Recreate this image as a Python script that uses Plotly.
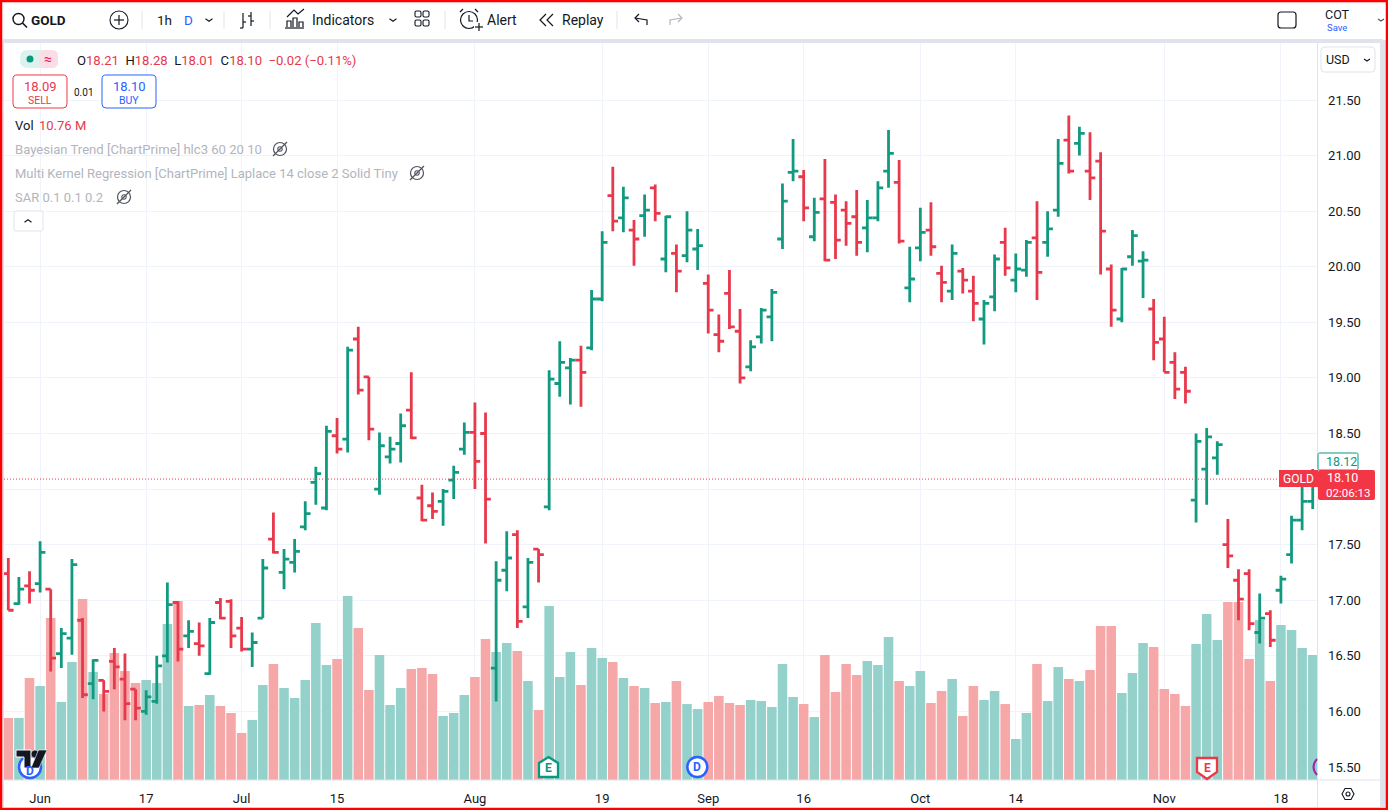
import pandas as pd
import plotly.graph_objects as go

W, H = 1388, 810

holidays = ["2024-06-19", "2024-07-04", "2024-09-02"]
dates = [d.strftime("%Y-%m-%d") for d in pd.bdate_range("2024-05-29", "2024-11-21")
         if d.strftime("%Y-%m-%d") not in holidays]

opens = [17.24,16.97,17.13,17.15,17.10,16.52,16.66,16.82,16.25,16.28,16.45,16.29,16.20,16.00,16.09,16.50,
         16.98,16.68,16.61,16.34,16.98,16.99,16.75,16.56,16.84,17.55,17.25,17.34,17.66,18.06,17.83,18.48,
         18.45,19.35,19.01,18.00,18.29,18.41,18.71,17.92,17.85,17.89,18.08,18.36,18.51,18.50,16.39,17.27,
         17.59,16.94,17.46,17.84,18.95,19.09,19.16,19.27,19.71,20.64,20.44,20.33,20.46,20.71,20.07,20.12,
         20.10,20.16,19.85,19.39,19.76,19.42,19.10,19.37,19.55,20.25,20.85,20.81,20.27,20.61,20.58,20.51,
         20.45,20.35,20.44,20.86,20.76,19.81,20.17,20.33,19.94,19.78,19.96,19.78,19.53,19.73,20.22,19.88,
         19.97,20.26,20.22,20.51,21.14,21.11,20.86,20.95,19.98,19.53,20.09,20.05,19.62,19.35,19.14,19.05,
         17.90,18.18,18.28,17.50,17.18,17.24,16.71,16.88,17.09,17.41,17.72,17.89]
highs = [17.38,17.21,17.26,17.53,17.10,16.75,17.37,16.84,16.47,16.28,16.57,16.52,16.20,16.19,16.50,17.16,
         16.99,16.82,16.80,16.84,17.02,17.01,16.85,16.71,17.37,17.79,17.46,17.55,17.89,18.20,18.57,18.64,
         19.28,19.46,19.01,18.51,18.47,18.68,19.05,18.04,17.97,18.00,18.21,18.60,18.78,18.69,17.35,17.62,
         17.63,17.38,17.46,19.07,19.33,19.18,19.29,19.79,20.32,20.90,20.72,20.42,20.65,20.74,20.46,20.20,
         20.50,20.34,19.93,19.57,19.97,19.62,19.34,19.63,19.80,20.75,21.15,20.87,20.62,20.97,20.65,20.59,
         20.69,20.60,20.77,21.23,20.96,20.18,20.53,20.58,20.01,20.20,19.99,19.92,19.70,20.11,20.35,20.12,
         20.24,20.59,20.50,21.15,21.36,21.26,21.21,21.03,20.02,19.99,20.33,20.14,19.71,19.55,19.23,19.10,
         18.50,18.55,18.43,17.73,17.28,17.28,17.06,16.91,17.22,17.76,18.10,18.18]
lows = [16.91,16.96,16.97,17.07,16.36,16.39,16.51,16.12,16.11,16.00,16.20,15.92,15.92,15.97,16.07,16.44,
        16.45,16.57,16.50,16.33,16.83,16.57,16.54,16.40,16.84,17.42,17.10,17.25,17.63,17.86,17.81,18.32,
        18.33,18.85,18.44,17.95,18.23,18.24,18.45,17.71,17.73,17.67,17.91,18.31,18.00,17.51,16.09,17.08,
        16.75,16.84,17.16,17.81,18.83,18.76,18.74,19.25,19.69,20.32,20.31,20.01,20.27,20.41,19.95,19.77,
        20.04,19.97,19.40,19.23,19.44,18.95,19.06,19.31,19.33,20.16,20.77,20.41,20.23,20.05,20.07,20.19,
        20.10,20.13,20.41,20.71,20.21,19.68,20.05,20.10,19.68,19.70,19.76,19.51,19.30,19.60,19.92,19.77,
        19.91,19.70,20.09,20.45,20.84,21.00,20.60,19.93,19.46,19.50,20.01,19.72,19.16,19.05,18.81,18.77,
        17.70,17.86,18.13,17.29,16.82,16.73,16.61,16.58,16.97,17.33,17.63,17.82]
closes = [16.91,17.10,17.09,17.43,16.48,16.70,17.32,16.15,16.46,16.18,16.40,16.07,16.03,16.13,16.41,16.96,
          16.56,16.72,16.59,16.80,16.84,16.68,16.56,16.62,17.29,17.43,17.37,17.44,17.78,18.14,18.52,18.36,
          19.25,18.89,18.54,18.39,18.36,18.57,18.46,17.72,17.80,17.98,18.15,18.51,18.25,17.91,17.18,17.38,
          16.81,17.34,17.41,18.99,19.14,19.16,19.05,19.71,20.22,20.41,20.62,20.25,20.51,20.48,20.45,19.96,
          20.33,20.19,19.61,19.33,19.46,19.00,19.28,19.61,19.77,20.59,20.86,20.53,20.49,20.06,20.24,20.39,
          20.22,20.44,20.71,21.02,20.23,19.89,20.31,20.18,19.86,20.12,19.88,19.67,19.67,20.07,19.99,19.98,
          20.22,19.95,20.34,20.93,20.86,21.20,20.80,20.32,19.61,19.98,20.28,20.06,19.32,19.05,18.90,18.88,
          18.43,18.47,18.40,17.40,17.01,16.79,16.84,16.64,17.19,17.72,17.89,18.12]
volumes = [5.34,5.34,8.78,8.09,13.95,6.72,10.16,15.58,9.30,7.40,10.93,9.38,8.35,8.61,8.35,13.43,
           15.41,6.37,6.46,7.32,6.37,5.77,4.05,5.17,8.18,9.99,7.92,7.06,8.61,13.52,9.90,10.42,
           15.84,13.09,7.75,10.76,6.46,7.92,9.56,9.64,9.13,5.51,5.77,7.32,8.87,12.14,11.02,11.80,
           11.11,8.52,6.03,14.98,8.87,11.02,8.18,11.37,10.50,10.16,8.78,8.09,7.92,6.63,6.72,8.52,
           6.54,6.11,6.72,7.23,6.63,6.46,6.89,6.80,6.29,9.99,7.15,6.54,5.42,10.76,7.58,9.99,
           9.04,10.25,9.90,12.31,8.52,8.09,9.38,6.63,7.66,8.70,5.51,8.09,6.89,7.66,6.54,3.53,
           5.77,9.99,6.80,9.73,8.70,8.52,9.47,13.26,13.26,7.49,9.21,11.80,11.45,7.84,7.40,6.37,
           11.71,14.29,12.05,15.33,15.33,10.42,13.78,8.52,13.35,12.92,11.37,10.76]

x_tick_dates = ["2024-06-03","2024-06-17","2024-07-01","2024-07-15","2024-08-01","2024-08-19",
                "2024-09-03","2024-09-16","2024-10-01","2024-10-14","2024-11-01","2024-11-18"]
x_tick_text = ["Jun","17","Jul","15","Aug","19","Sep","16","Oct","14","Nov","18"]
price_ticks = [15.5,16.0,16.5,17.0,17.5,18.0,18.5,19.0,19.5,20.0,20.5,21.0,21.5]
# the 18.00 label is hidden behind the countdown label in the reference
price_tick_text = ["15.50","16.00","16.50","17.00","17.50","","18.50","19.00","19.50","20.00","20.50","21.00","21.50"]
last_price = 18.09

GREEN, RED = "#129A80", "#E8384C"
VOL_G, VOL_R = "#94D1CB", "#F6A7A7"
GRID, BORDER, BAND = "#F0F3FA", "#E0E3EB", "#E0E3EB"
TXT, GRAY, BLUE, TV_RED = "#131722", "#B2B5BE", "#2962FF", "#F23645"
FONT = "Roboto"

def X(v): return v / W
def Y(v): return 1 - v / H

shapes, notes = [], []

def text(x, y, s, size=13, color=TXT, anchor="left", bold=False):
    notes.append(dict(xref="paper", yref="paper", x=X(x), y=Y(y), text=f"<b>{s}</b>" if bold else s,
                      showarrow=False, xanchor=anchor, yanchor="middle", borderpad=0,
                      font=dict(family=FONT, size=size, color=color)))

def rect(x0, y0, x1, y1, fill="rgba(0,0,0,0)", line=None, lw=1):
    shapes.append(dict(type="rect", xref="paper", yref="paper", layer="above",
                       x0=X(x0), x1=X(x1), y0=Y(y0), y1=Y(y1), fillcolor=fill,
                       line=dict(color=line or "rgba(0,0,0,0)", width=lw if line else 0)))

def path(pts, close=False, fill="rgba(0,0,0,0)", line=TXT, lw=1.2):
    d = "M " + " L ".join(f"{X(a):.5f},{Y(b):.5f}" for a, b in pts) + (" Z" if close else "")
    shapes.append(dict(type="path", xref="paper", yref="paper", layer="above", path=d, fillcolor=fill,
                       line=dict(color=line or "rgba(0,0,0,0)", width=lw if line else 0)))

def rrect(x0, y0, x1, y1, r=3, fill="#FFFFFF", line=BORDER, lw=1):
    def p(a, b): return f"{X(a):.5f},{Y(b):.5f}"
    d = (f"M {p(x0+r,y0)} L {p(x1-r,y0)} Q {p(x1,y0)} {p(x1,y0+r)} L {p(x1,y1-r)} Q {p(x1,y1)} {p(x1-r,y1)} "
         f"L {p(x0+r,y1)} Q {p(x0,y1)} {p(x0,y1-r)} L {p(x0,y0+r)} Q {p(x0,y0)} {p(x0+r,y0)} Z")
    shapes.append(dict(type="path", xref="paper", yref="paper", layer="above", path=d, fillcolor=fill,
                       line=dict(color=line or "rgba(0,0,0,0)", width=lw if line else 0)))

def circle(cx, cy, r, fill="rgba(0,0,0,0)", line=TXT, lw=1.2):
    shapes.append(dict(type="circle", xref="paper", yref="paper", layer="above",
                       x0=X(cx-r), x1=X(cx+r), y0=Y(cy-r), y1=Y(cy+r), fillcolor=fill,
                       line=dict(color=line or "rgba(0,0,0,0)", width=lw if line else 0)))

def chevron(cx, cy, up=False, w=3.5, h=2.5, color=TXT):
    s = -1 if up else 1
    path([(cx-w, cy-s*h/2), (cx, cy+s*h/2), (cx+w, cy-s*h/2)], line=color, lw=1.1)

def eye(cx, cy):
    circle(cx, cy, 6.5, line="#50535E", lw=1.2)
    circle(cx, cy, 2.2, line="#50535E", lw=1.1)
    path([(cx-7, cy+7), (cx+7, cy-7)], line="#50535E", lw=1.3)

# frame / toolbar
rect(3, 39, 1383, 43, fill=BAND)
rect(1380, 40, 1386, 807, fill=BAND)
rect(2, 40, 4, 807, fill=BAND)
path([(1317.5, 43), (1317.5, 807)], line=BORDER, lw=1)
path([(4, 780), (1380, 780)], line=BORDER, lw=1)

# toolbar icons
circle(18.5, 19, 5.5, lw=1.4); path([(22.5, 23), (27, 27.5)], lw=1.6)
circle(119, 20, 9, lw=1.1); path([(114, 20), (124, 20)]); path([(119, 15), (119, 25)])
for sx in (142, 224, 270, 445, 617):
    path([(sx, 11), (sx, 29)], line=BORDER, lw=1)
chevron(209, 20)
path([(243, 13), (243, 28)]); path([(240, 28), (243, 28)]); path([(243, 22), (246, 22)])
path([(251, 12), (251, 26)]); path([(248, 16), (251, 16)]); path([(251, 21), (254, 21)])
path([(287, 27), (287, 21), (291, 21), (291, 27)]); path([(293, 27), (293, 18), (297, 18), (297, 27)])
path([(299, 27), (299, 22), (303, 22), (303, 27)]); path([(285, 28), (304, 28)])
path([(287, 17), (294, 10), (298, 14), (304, 9)])
chevron(393, 20)
for gx, gy in ((418, 14), (426, 14), (418, 23), (426, 23)):
    rrect(gx-3, gy-3, gx+3, gy+3, r=1.5, fill="#FFFFFF", line=TXT, lw=1.1)
circle(469, 20, 8.5, lw=1.2); path([(469, 15), (469, 21), (473, 21)])
path([(460, 12), (463, 9)]); path([(478, 12), (475, 9)]); rect(474, 22, 483, 31, fill="#FFFFFF")
path([(475, 27), (483, 27)]); path([(479, 23), (479, 31)])
path([(546, 14), (540, 20), (546, 26)]); path([(553, 14), (547, 20), (553, 26)])
path([(647, 25), (647, 20), (635, 18)]); path([(639, 14), (635, 18), (639, 22)])
path([(670, 25), (670, 20), (682, 18)], line=GRAY); path([(678, 14), (682, 18), (678, 22)], line=GRAY)
rrect(1278, 12, 1296, 28, r=3, fill="#FFFFFF", line=TXT, lw=1.2)
chevron(1381, 20, w=3, h=2, color="#50535E")

text(30, 20, "GOLD", 13.5, bold=True)
text(156, 20, "1h", 13.5)
text(183, 20, "D", 13.5, BLUE)
text(311, 20, "Indicators", 14)
text(486, 20, "Alert", 14)
text(561, 20, "Replay", 14)
text(1337, 15, "COT", 12.5, anchor="center")
text(1337, 28, "Save", 9.5, BLUE, anchor="center")

# legend
rrect(20, 50, 58, 68, r=8, fill="#DDF2EE", line=None)
rrect(39, 50, 58, 68, r=6, fill="#FBDDE5", line=None)
circle(30, 59, 3.5, fill="#089981", line=None)
text(48, 59, "≈", 14, "#E91E63", anchor="center")
R = "#E8384C"
ohlc = (f'O<span style="color:{R}">18.21</span>  H<span style="color:{R}">18.28</span>  '
        f'L<span style="color:{R}">18.01</span>  C<span style="color:{R}">18.10</span>  '
        f'<span style="color:{R}">−0.02 (−0.11%)</span>')
text(76, 60, ohlc, 13.1)
rrect(13, 75, 67, 108, r=4, fill="#FFFFFF", line=TV_RED)
rrect(102, 75, 156, 108, r=4, fill="#FFFFFF", line=BLUE)
text(40, 86, "18.09", 13, R, anchor="center")
text(40, 100, "SELL", 10.5, R, anchor="center")
text(84, 92, "0.01", 10, TXT, anchor="center")
text(129, 86, "18.10", 13, BLUE, anchor="center")
text(129, 100, "BUY", 10.5, BLUE, anchor="center")
text(14, 125, "Vol", 13)
text(38, 125, "10.76 M", 13, R)
text(14, 149, "Bayesian Trend [ChartPrime] hlc3 60 20 10", 13.1, GRAY)
text(14, 173, "Multi Kernel Regression [ChartPrime] Laplace 14 close 2 Solid Tiny", 13, GRAY)
text(14, 197, "SAR 0.1 0.1 0.2", 13, GRAY)
eye(280, 149); eye(417, 173); eye(124, 197)
rrect(14, 211, 43, 231, r=2, fill="#FFFFFF", line=BORDER)
chevron(28, 221, up=True, color=TXT)

# USD
rrect(1321, 47, 1375, 72, r=4, fill="#FFFFFF", line=BORDER)
text(1325, 59.5, "USD", 12.5)
chevron(1367, 60, w=3, h=2)

# event markers
circle(30, 767, 11, fill="#FFFFFF", line=BLUE, lw=2.5)
text(30, 771, "D", 12, BLUE, anchor="center", bold=True)
path([(16, 750), (31, 750), (31, 768), (24, 768), (24, 757), (16, 757)], close=True, fill="#131722", line="#FFFFFF", lw=1)
circle(35, 754, 4, fill="#131722", line="#FFFFFF", lw=0.6)
path([(47, 750), (39, 768), (31, 768), (38.5, 750)], close=True, fill="#131722", line="#FFFFFF", lw=0.6)
path([(548.5, 757), (558, 763), (558, 777), (539, 777), (539, 763)], close=True, fill="#FFFFFF", line="#089981", lw=2.3)
text(548.5, 768, "E", 12, "#089981", anchor="center", bold=True)
circle(697.3, 767, 10, fill="#FFFFFF", line=BLUE, lw=2.5)
text(697.3, 767, "D", 12, BLUE, anchor="center", bold=True)
path([(1197, 758), (1217, 758), (1217, 772), (1207, 779), (1197, 772)], close=True, fill="#FFFFFF", line=TV_RED, lw=2.3)
text(1207, 767.5, "E", 12, TV_RED, anchor="center", bold=True)
shapes.append(dict(type="path", xref="paper", yref="paper", layer="above",
                   path=f"M {X(1317):.5f},{Y(759):.5f} Q {X(1310):.5f},{Y(767):.5f} {X(1317):.5f},{Y(775):.5f}",
                   fillcolor="rgba(0,0,0,0)", line=dict(color="#9C27B0", width=2)))

# price labels
rect(1279, 470, 1318, 487, fill=TV_RED)
rrect(1318, 453, 1358, 470, r=1.5, fill="#FFFFFF", line="#089981")
rrect(1318, 470, 1375, 500, r=2, fill=TV_RED, line=None)
text(1298.5, 479, "GOLD", 12, "#FFFFFF", anchor="center")
text(1325, 461.5, "18.12", 12.5, "#089981")
text(1326, 477.5, "18.10", 12.5, "#FFFFFF")
text(1325, 492.5, "02:06:13", 11.5, "#FFFFFF")

# settings hexagon
path([(1342, 794), (1345, 788.5), (1351, 788.5), (1354, 794), (1351, 799.5), (1345, 799.5)], close=True, lw=1.1)
circle(1348, 794, 2, lw=1.1)

# last price line
shapes.append(dict(type="line", xref="paper", yref="y2", x0=X(4), x1=X(1279), y0=last_price, y1=last_price,
                   layer="above", line=dict(color=TV_RED, width=1, dash="1px,2px")))

# red frame
rect(1, 1, W-1, H-1, line="#FF0000", lw=2.5)

vol_colors = [VOL_G if c > o else VOL_R for o, c in zip(opens, closes)]

fig = go.Figure()
fig.add_trace(go.Bar(x=dates, y=volumes, marker=dict(color=vol_colors, line=dict(width=0)), yaxis="y", showlegend=False))
fig.add_trace(go.Ohlc(x=dates, open=opens, high=highs, low=lows, close=closes, yaxis="y2", tickwidth=0.5,
                      increasing=dict(line=dict(color=GREEN, width=2.8)),
                      decreasing=dict(line=dict(color=RED, width=2.8)), showlegend=False))

DX = [X(4), X(1317.5)]
DY = [Y(780), Y(43)]
fig.update_layout(
    width=W, height=H, margin=dict(l=0, r=0, t=0, b=0), autosize=False,
    paper_bgcolor="#FFFFFF", plot_bgcolor="#FFFFFF", bargap=0.1, hovermode=False,
    font=dict(family=FONT, color=TXT, size=13),
    shapes=shapes, annotations=notes,
    xaxis=dict(domain=DX, type="category", categoryorder="array", categoryarray=dates,
               range=[-0.405, 123.45], tickmode="array", tickvals=x_tick_dates, ticktext=x_tick_text,
               showgrid=True, gridcolor=GRID, gridwidth=1, showline=False, zeroline=False,
               ticks="outside", ticklen=6, tickcolor="rgba(0,0,0,0)", rangeslider=dict(visible=False),
               tickfont=dict(family=FONT, size=13, color=TXT)),
    yaxis=dict(domain=DY, range=[0, 63.46], showgrid=False, showticklabels=False, zeroline=False, ticks=""),
    yaxis2=dict(domain=DY, overlaying="y", side="right", anchor="x", range=[15.383, 22.013],
                tickmode="array", tickvals=price_ticks, ticktext=price_tick_text,
                showgrid=True, gridcolor=GRID, gridwidth=1, zeroline=False, showline=False,
                ticks="outside", ticklen=7, tickcolor="rgba(0,0,0,0)",
                tickfont=dict(family=FONT, size=13, color=TXT)),
)

fig.write_html("out.html", config=dict(displayModeBar=False, responsive=False),
               post_script="document.body.style.margin='0';document.body.style.overflow='hidden';")
